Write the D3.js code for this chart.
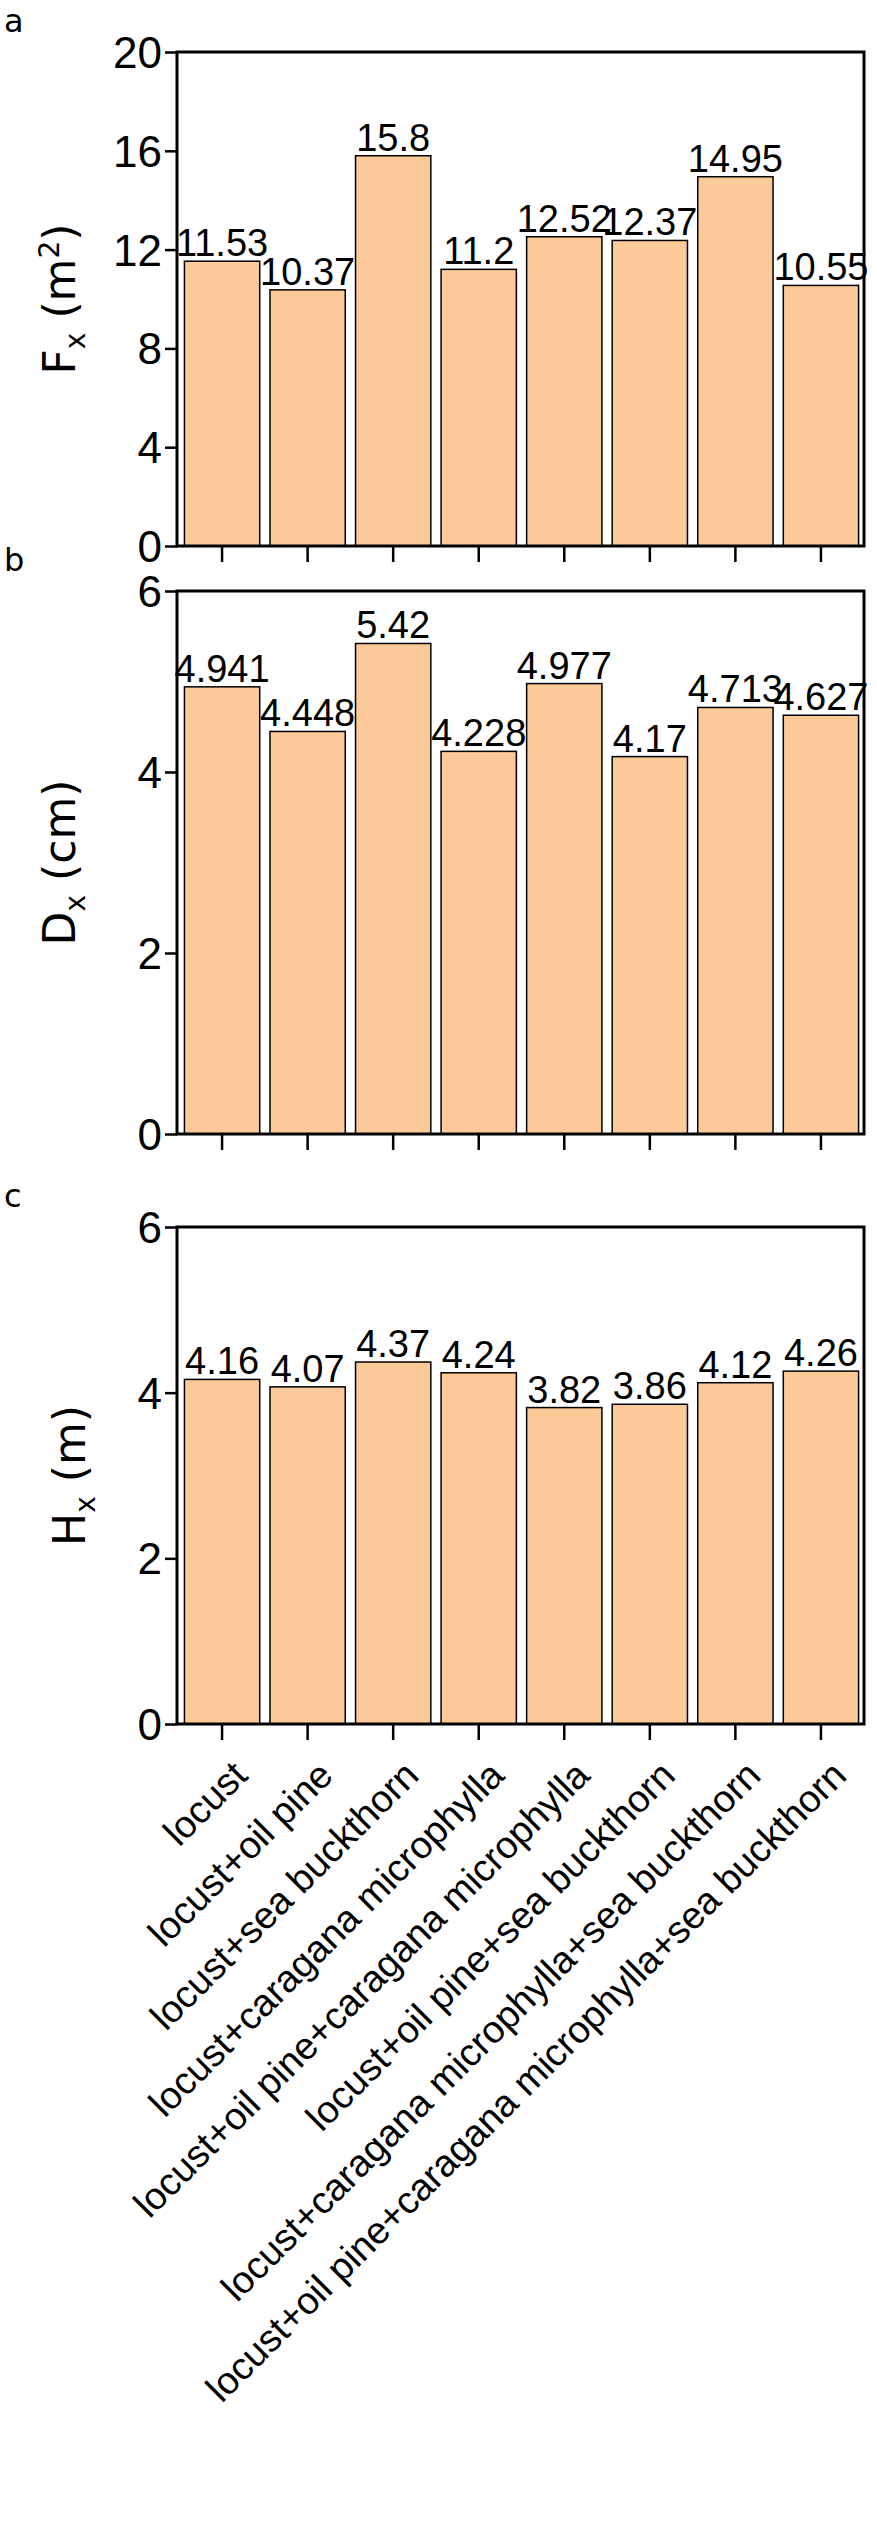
<!DOCTYPE html><html><head><meta charset="utf-8">
<script src="https://cdn.jsdelivr.net/npm/d3@7"></script>
<style>body{margin:0;background:#fff}</style></head><body>
<svg id="c" width="877" height="2522"></svg>
<script>
const categories=["locust","locust+oil pine","locust+sea buckthorn","locust+caragana microphylla","locust+oil pine+caragana microphylla","locust+oil pine+sea buckthorn","locust+caragana microphylla+sea buckthorn","locust+oil pine+caragana microphylla+sea buckthorn"];
const fValues=[11.53,10.37,15.8,11.2,12.52,12.37,14.95,10.55];
const dValues=[4.941,4.448,5.42,4.228,4.977,4.17,4.713,4.627];
const hValues=[4.16,4.07,4.37,4.24,3.82,3.86,4.12,4.26];
const fTicks=[0,4,8,12,16,20], dTicks=[0,2,4,6], hTicks=[0,2,4,6];
const panels=[
 {letter:"a",vals:fValues,ticks:fTicks,max:20,top:52,bottom:546,lab:"F",sub:"x",unit:" (m",sup:"2",end:")"},
 {letter:"b",vals:dValues,ticks:dTicks,max:6,top:591,bottom:1134,lab:"D",sub:"x",unit:" (cm)"},
 {letter:"c",vals:hValues,ticks:hTicks,max:6,top:1227,bottom:1724,lab:"H",sub:"x",unit:" (m)"}];
const svg=d3.select("#c");
const L=177,R=864;
const NF="Liberation Sans Narrow, Liberation Sans, Arial";
const x=d3.scaleBand().domain(categories).range([L+4,R-2]).paddingInner(0.12).paddingOuter(0.04);
panels.forEach((p,pi)=>{
 const y=d3.scaleLinear().domain([0,p.max]).range([p.bottom,p.top]);
 const g=svg.append("g");
 g.selectAll("rect.bar").data(p.vals).join("rect").attr("x",(d,i)=>x(categories[i])).attr("width",x.bandwidth())
  .attr("y",d=>y(d)).attr("height",d=>y(0)-y(d)).attr("fill","#FCCA98").attr("stroke","#000").attr("stroke-width",1.5);
 g.selectAll("text.v").data(p.vals).join("text").attr("x",(d,i)=>x(categories[i])+x.bandwidth()/2).attr("y",d=>y(d)-5)
  .attr("text-anchor","middle").attr("font-family",NF).attr("font-size",38).text(d=>d);
 g.append("rect").attr("x",L).attr("y",p.top).attr("width",R-L).attr("height",p.bottom-p.top).attr("fill","none").attr("stroke","#000").attr("stroke-width",3);
 const ya=g.append("g").attr("transform",`translate(${L},0)`).call(d3.axisLeft(y).tickValues(p.ticks).tickFormat(d3.format("d")).tickSize(12).tickPadding(3));
 ya.select(".domain").remove();
 ya.selectAll("line").attr("stroke-width",2.5);
 ya.selectAll("text").attr("font-family",NF).attr("font-size",44).attr("fill","#000").attr("dy","0.35em");
 const xa=g.append("g").attr("transform",`translate(0,${p.bottom})`).call(d3.axisBottom(x).tickSize(16).tickFormat(pi==2?(d=>d):""));
 xa.select(".domain").remove();
 xa.selectAll("line").attr("stroke-width",2.5);
 if(pi==2){xa.selectAll("text").attr("font-family","Liberation Sans, Arial").attr("font-size",38).attr("fill","#000")
   .attr("text-anchor","end").attr("dy",0).attr("transform","translate(14,40) rotate(-45)");}
 svg.append("text").attr("x",4).attr("y",p.top-20).attr("font-family","DejaVu Sans").attr("font-size",32).text(p.letter);
 const yl=svg.append("text").attr("transform",`translate(${pi==2?85:75},${(p.top+p.bottom)/2}) rotate(-90)`).attr("text-anchor","middle")
  .attr("font-family","DejaVu Sans").attr("font-size",44);
 yl.append("tspan").text(p.lab);
 yl.append("tspan").attr("font-size",28).attr("dy",10).text(p.sub);
 yl.append("tspan").attr("dy",-10).text(p.unit);
 if(p.sup){yl.append("tspan").attr("font-size",28).attr("dy",-16).text(p.sup);yl.append("tspan").attr("dy",16).text(p.end);}
});
</script></body></html>
